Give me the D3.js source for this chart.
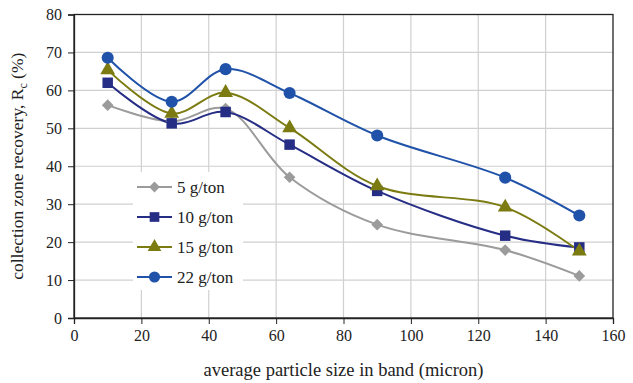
<!DOCTYPE html>
<html>
<head>
<meta charset="utf-8">
<script src="https://cdn.jsdelivr.net/npm/d3@7"></script>
<style>
  body { margin: 0; background: #fff; }
  text { font-family: "Liberation Serif", "Times New Roman", serif; fill: #222; }
</style>
</head>
<body>
<div id="chart"></div>
<script>
const sizes = [10, 29, 45, 64, 90, 128, 150];
const rec5 = [56.1, 51.8, 55.2, 37.1, 24.6, 17.9, 11.1];
const rec10 = [62.0, 51.3, 54.3, 45.7, 33.5, 21.7, 18.6];
const rec15 = [65.4, 53.9, 59.4, 50.1, 34.8, 29.2, 17.6];
const rec22 = [68.6, 57.0, 65.6, 59.3, 48.1, 37.0, 27.0];
const xTicks = [0, 20, 40, 60, 80, 100, 120, 140, 160];
const yTicks = [0, 10, 20, 30, 40, 50, 60, 70, 80];

const series = [
  { label: '5 g/ton', values: rec5, color: '#9b9b9b', symbol: d3.symbolSquare, size: 68, rot: 45 },
  { label: '10 g/ton', values: rec10, color: '#262d85', symbol: d3.symbolSquare, size: 110, rot: 0 },
  { label: '15 g/ton', values: rec15, color: '#7b7b12', symbol: d3.symbolTriangle, size: 95, rot: 0 },
  { label: '22 g/ton', values: rec22, color: '#1f52a8', symbol: d3.symbolCircle, size: 115, rot: 0 }
];

const width = 633;
const height = 383;
const margin = { top: 14.5, right: 20, bottom: 65, left: 74 };
const innerWidth = width - margin.left - margin.right;
const innerHeight = height - margin.top - margin.bottom;

const svg = d3.select('#chart').append('svg')
  .attr('width', width)
  .attr('height', height);

const x = d3.scaleLinear().domain([0, 160]).range([0, innerWidth]);
const y = d3.scaleLinear().domain([0, 80]).range([innerHeight, 0]);

const g = svg.append('g').attr('transform', `translate(${margin.left}, ${margin.top})`);

// grid
g.append('g').selectAll('line')
  .data(xTicks.slice(1, -1))
  .join('line')
  .attr('x1', (d) => x(d)).attr('x2', (d) => x(d))
  .attr('y1', 0).attr('y2', innerHeight)
  .attr('stroke', '#d0d0d0').attr('stroke-width', 1.2);

g.append('g').selectAll('line')
  .data(yTicks.slice(1, -1))
  .join('line')
  .attr('x1', 0).attr('x2', innerWidth)
  .attr('y1', (d) => y(d)).attr('y2', (d) => y(d))
  .attr('stroke', '#d0d0d0').attr('stroke-width', 1.2);

// frame
g.append('rect')
  .attr('width', innerWidth).attr('height', innerHeight)
  .attr('fill', 'none').attr('stroke', '#222').attr('stroke-width', 1.3);

// axes
const xAxis = g.append('g')
  .attr('transform', `translate(0, ${innerHeight})`)
  .call(d3.axisBottom(x).tickValues(xTicks).tickSize(6).tickPadding(6));
const yAxis = g.append('g')
  .call(d3.axisLeft(y).tickValues(yTicks).tickSize(6).tickPadding(6));

[xAxis, yAxis].forEach((a) => {
  a.attr('font-family', null).attr('font-size', null);
  a.select('.domain').attr('stroke', '#222').attr('stroke-width', 1.3);
  a.selectAll('.tick line').attr('stroke', '#222');
  a.selectAll('text')
    .attr('font-size', 16)
    .attr('fill', '#333');
});

// lines
const line = d3.line()
  .x((d, i) => x(sizes[i]))
  .y((d) => y(d))
  .curve(d3.curveCatmullRom.alpha(0.5));

series.forEach((s) => {
  g.append('path')
    .datum(s.values)
    .attr('d', line)
    .attr('fill', 'none')
    .attr('stroke', s.color)
    .attr('stroke-width', 2);
});

series.forEach((s) => {
  g.append('g').selectAll('path')
    .data(s.values)
    .join('path')
    .attr('transform', (d, i) => `translate(${x(sizes[i])}, ${y(d)}) rotate(${s.rot})`)
    .attr('d', d3.symbol().type(s.symbol).size(s.size))
    .attr('fill', s.color);
});

// legend
const legend = svg.append('g').attr('transform', 'translate(133, 172)');
legend.append('rect')
  .attr('width', 110).attr('height', 118)
  .attr('fill', '#fff');

series.forEach((s, i) => {
  const row = legend.append('g').attr('transform', `translate(4, ${15 + i * 30})`);
  row.append('line')
    .attr('x1', 0).attr('x2', 35)
    .attr('stroke', s.color).attr('stroke-width', 2);
  row.append('path')
    .attr('transform', `translate(17.5, 0) rotate(${s.rot})`)
    .attr('d', d3.symbol().type(s.symbol).size(s.size * 0.85))
    .attr('fill', s.color);
  row.append('text')
    .attr('x', 40).attr('y', 6)
    .attr('font-size', 17)
    .text(s.label);
});

// axis titles
svg.append('text')
  .attr('x', margin.left + innerWidth / 2)
  .attr('y', 376)
  .attr('text-anchor', 'middle')
  .attr('font-size', 18.5)
  .text('average particle size in band (micron)');

const yTitle = svg.append('text')
  .attr('transform', `translate(23, ${margin.top + innerHeight / 2}) rotate(-90)`)
  .attr('text-anchor', 'middle')
  .attr('font-size', 17.5);
yTitle.append('tspan').text('collection zone recovery, R');
yTitle.append('tspan').attr('dy', 4).attr('font-size', 12).text('c');
yTitle.append('tspan').attr('dy', -4).text(' (%)');
</script>
</body>
</html>
